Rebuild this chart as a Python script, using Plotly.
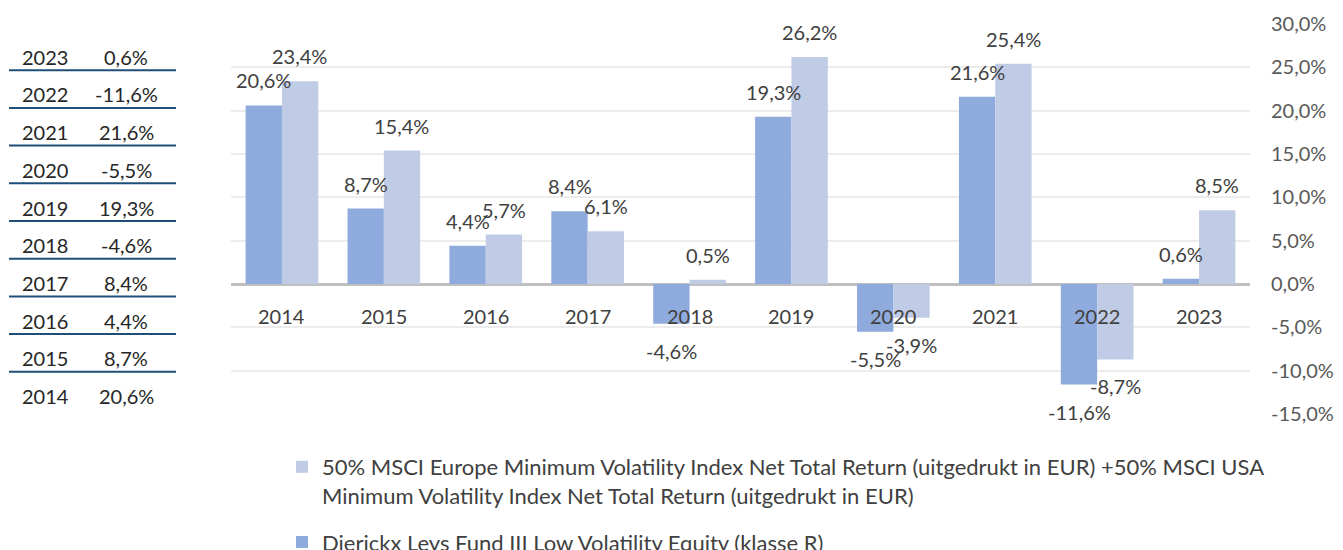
import plotly.graph_objects as go

years = ['2014', '2015', '2016', '2017', '2018', '2019', '2020', '2021', '2022', '2023']
fund = [20.6, 8.7, 4.4, 8.4, -4.6, 19.3, -5.5, 21.6, -11.6, 0.6]
index = [23.4, 15.4, 5.7, 6.1, 0.5, 26.2, -3.9, 25.4, -8.7, 8.5]
fund_name = 'Dierickx Leys Fund III Low Volatility Equity (klasse R)'
index_name = ('50% MSCI Europe Minimum Volatility Index Net Total Return (uitgedrukt in EUR) +50% MSCI USA'
              '<br>Minimum Volatility Index Net Total Return (uitgedrukt in EUR)')
y_ticks = [30, 25, 20, 15, 10, 5, 0, -5, -10, -15]

FONT = 'Lato'
FS = 20
LFS = 22
TXT = '#404040'
DARK = '#8FAADC'
LIGHT = '#C0CBE5'

OFF = 8  # page body margin
W, H = 1343 - OFF, 550 - OFF
L, T = 231 - OFF, 24 - OFF
R = W - (1250 - OFF)
B = H - (414 - OFF)


def px(x):  # screen px -> paper x
    return (x - OFF - L) / (W - L - R)


def py(y):  # screen px -> paper y
    return (H - B - (y - OFF)) / (H - T - B)


def pct(v):
    return f'{v:.1f}%'.replace('.', ',')


fig = go.Figure()
fig.add_trace(go.Bar(x=years, y=fund, name=fund_name, marker=dict(color=DARK, line=dict(width=0)),
                     legendgroup='f', legendrank=2))
fig.add_trace(go.Bar(x=years, y=index, name=index_name, marker=dict(color=LIGHT, line=dict(width=0)),
                     legendgroup='i', legendrank=1))

ann = []
for series, shift in ((fund, -18), (index, 18)):
    for i, v in enumerate(series):
        ann.append(dict(x=i, y=v, xref='x', yref='y', text=pct(v), showarrow=False,
                        xshift=shift, yshift=25 if v >= 0 else -27,
                        font=dict(family=FONT, size=FS, color=TXT)))
for i, yr in enumerate(years):
    ann.append(dict(x=i, y=0, xref='x', yref='y', text=yr, showarrow=False, yshift=-32,
                    font=dict(family=FONT, size=FS, color=TXT)))

# left table
shapes = []
row0 = 56.7
pitch = 37.7
for i, (yr, v) in enumerate(zip(years[::-1], fund[::-1])):
    yc = row0 + i * pitch
    ann.append(dict(x=px(20), y=py(yc), xref='paper', yref='paper', text=yr, showarrow=False,
                    xanchor='left', yanchor='middle', font=dict(family=FONT, size=FS, color='#262626')))
    ann.append(dict(x=px(126), y=py(yc), xref='paper', yref='paper', text=pct(v), showarrow=False,
                    xanchor='center', yanchor='middle', font=dict(family=FONT, size=FS, color='#262626')))
    if i < len(years) - 1:
        ly = yc + 13.5
        shapes.append(dict(type='line', xref='paper', yref='paper', x0=px(9), x1=px(176),
                           y0=py(ly), y1=py(ly), line=dict(color='#1F4E79', width=2)))

fig.update_layout(
    width=W, height=H,
    margin=dict(l=L, r=R, t=T, b=B, autoexpand=False),
    paper_bgcolor='white', plot_bgcolor='white',
    barmode='group', bargap=0.287, bargroupgap=0,
    font=dict(family=FONT, size=FS, color=TXT),
    xaxis=dict(type='category', showticklabels=False, showgrid=False, showline=False, zeroline=False,
               range=[-0.5, 9.5]),
    yaxis=dict(side='right', range=[-15, 30], tickvals=y_ticks, ticktext=[pct(v) for v in y_ticks],
               showgrid=True, gridcolor='#ECECEC', gridwidth=1.5,
               zeroline=True, zerolinecolor='#BFBFBF', zerolinewidth=3,
               showline=False, ticks='', ticklabelstandoff=20,
               tickfont=dict(family=FONT, size=FS, color='#595959')),
    legend=dict(orientation='v', x=px(282), y=py(446), xanchor='left', yanchor='top',
                traceorder='grouped', tracegroupgap=15, valign='top',
                font=dict(family=FONT, size=LFS, color=TXT), bgcolor='rgba(0,0,0,0)'),
    annotations=ann, shapes=shapes,
    showlegend=True,
)

fig.write_html('out.html')
